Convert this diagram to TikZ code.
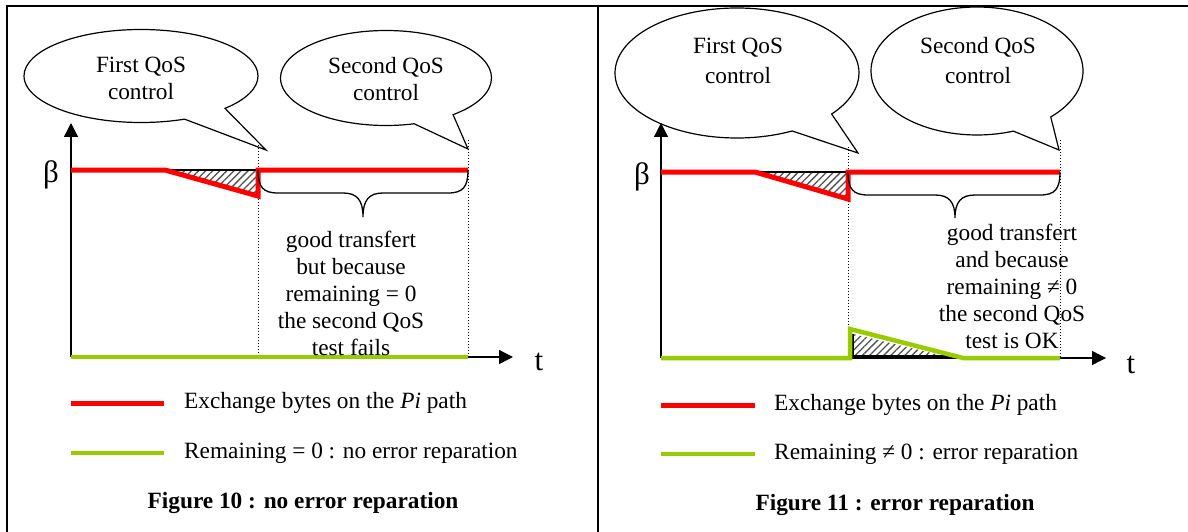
\documentclass[tikz,border=0pt]{standalone}
\usepackage{fontspec}
\setmainfont{Liberation Serif}
\usetikzlibrary{shapes.callouts,patterns.meta,arrows.meta}
\definecolor{grn}{RGB}{153,204,0}
\definecolor{hatchgray}{RGB}{80,80,80}
\begin{document}
\begin{tikzpicture}[x=1pt,y=-1pt,
  txt/.style={font=\fontsize{23.3}{27}\selectfont, inner sep=0pt, align=center},
  bubble/.style={ellipse callout, draw, line width=1.2pt, inner sep=0pt, callout pointer arc=24},
  redln/.style={draw=red, line width=5pt, line join=miter},
  grnln/.style={draw=grn, line width=4.5pt, line join=miter},
  axisln/.style={draw=black, line width=1.3pt, -{Triangle[length=14pt,width=14pt]}},
  guide/.style={draw=black, line width=1pt, dash pattern=on 1pt off 2pt},
  hatch/.style={pattern={Lines[angle=45,distance=5pt,line width=1.3pt]}, pattern color=hatchgray},
  edge/.style={draw=black, line width=1.2pt},
  bracepath/.style={draw=black, line width=1.3pt},
  symtxt/.style={font=\fontsize{31}{31}\selectfont, inner sep=0pt},
  captxt/.style={font=\fontsize{23.3}{27}\selectfont\bfseries, inner sep=0pt},
  legtxt/.style={font=\fontsize{23.3}{27}\selectfont, inner sep=0pt, anchor=west}]
\useasboundingbox (0,0) rectangle (1188,532);

% frame
\draw[line width=2pt] (7,540) -- (7,6) -- (1195,6);
\draw[line width=2pt] (598,6) -- (598,540);

% ================= LEFT PANEL =================
\coordinate (o1) at (71,357);
\coordinate (yt1) at (71,123);
\coordinate (xt1) at (513,357);
\coordinate (p1) at (266,150);
\coordinate (p2) at (468,149);
\node[bubble, minimum width=234pt, minimum height=93pt, callout absolute pointer={(p1)}] (b1) at (141,76) {};
\node[txt] (b1t) at (141,78) {First QoS\\control};
\node[bubble, minimum width=211pt, minimum height=95pt, callout absolute pointer={(p2)}] (b2) at (386,78) {};
\node[txt] (b2t) at (386,79) {Second QoS\\control};

\draw[axisln] (o1) -- (yt1);
\draw[axisln] (o1) -- (xt1);
\node[symtxt] (beta1) at (51,175) {β};
\node[symtxt] (t1) at (539,362) {t};

\coordinate (d1a) at (258,145);
\coordinate (d1b) at (258,357);
\coordinate (d2a) at (468,140);
\coordinate (d2b) at (468,357);
\draw[guide] (d1a) -- (d1b);
\draw[guide] (d2a) -- (d2b);

\coordinate (r1) at (71,170);
\coordinate (r2) at (165,170);
\coordinate (r3) at (258,196);
\coordinate (r4) at (258,170);
\coordinate (r5) at (468,170);
\fill[hatch] (r2) -- (r4) -- (r3) -- cycle;
\draw[edge] (r2) -- (r4) -- (258,194);
\draw[redln] (r1) -- (r2) -- (r3) -- (r4) -- (r5);

\draw[bracepath] (258,170) .. controls (258,187) and (263,193) .. (278,193) -- (343,193)
  .. controls (357,193) and (363,200) .. (363,217)
  .. controls (363,200) and (369,193) .. (383,193) -- (448,193)
  .. controls (463,193) and (468,187) .. (468,170);

\draw[grnln] (o1) -- (d2b);

\node[txt] (note1) at (351,293) {good transfert\\but because\\remaining = 0\\the second QoS\\test fails};

\coordinate (lr1) at (71,403);
\coordinate (lr2) at (164,403);
\draw[redln] (lr1) -- (lr2);
\node[legtxt] (lt1) at (184,403) {Exchange bytes on the \textit{Pi} path};
\coordinate (lg1) at (71,453);
\coordinate (lg2) at (164,453);
\draw[grnln] (lg1) -- (lg2);
\node[legtxt] (lt2) at (184,453) {Remaining = 0 : no error reparation};
\node[captxt] (cap1) at (303,503) {Figure 10 : no error reparation};

% ================= RIGHT PANEL =================
\coordinate (o2) at (661,358);
\coordinate (yt2) at (661,123);
\coordinate (xt2) at (1106,358);
\coordinate (p3) at (858,153);
\coordinate (p4) at (1059,150);
\node[bubble, minimum width=244pt, minimum height=130pt, callout absolute pointer={(p3)}] (b3) at (737,73) {};
\node[txt, font=\fontsize{23.3}{30}\selectfont] (b3t) at (738,61) {First QoS\\control};
\node[bubble, minimum width=212pt, minimum height=128pt, callout absolute pointer={(p4)}] (b4) at (977,71) {};
\node[txt, font=\fontsize{23.3}{30}\selectfont] (b4t) at (978,61) {Second QoS\\control};

\draw[axisln] (o2) -- (yt2);
\draw[axisln] (o2) -- (xt2);
\node[symtxt] (beta2) at (642,177) {β};
\node[symtxt] (t2) at (1131,365) {t};

\coordinate (d3a) at (848,147);
\coordinate (d3b) at (848,358);
\coordinate (d4a) at (1060,140);
\coordinate (d4b) at (1060,358);
\draw[guide] (d3a) -- (d3b);
\draw[guide] (d4a) -- (d4b);

\coordinate (s1) at (661,172);
\coordinate (s2) at (755,172);
\coordinate (s3) at (848,199);
\coordinate (s4) at (848,172);
\coordinate (s5) at (1060,172);
\fill[hatch] (s2) -- (s4) -- (s3) -- cycle;
\draw[edge] (s2) -- (s4) -- (848,197);
\draw[redln] (s1) -- (s2) -- (s3) -- (s4) -- (s5);

\draw[bracepath] (848,172) .. controls (848,189) and (853,195) .. (868,195) -- (935,195)
  .. controls (949,195) and (955,202) .. (955,218)
  .. controls (955,202) and (961,195) .. (975,195) -- (1040,195)
  .. controls (1055,195) and (1060,189) .. (1060,172);

\coordinate (g2) at (850,358);
\coordinate (g3) at (850,329);
\coordinate (g4) at (963,358);
\fill[hatch] (853,334) -- (853,356) -- (944,356) -- cycle;
\draw[edge] (853,334) -- (853,356) -- (950,356);
\draw[grnln] (o2) -- (g2) -- (g3) -- (g4) -- (d4b);

\node[txt] (note2) at (1012,286) {good transfert\\and because\\remaining ≠ 0\\the second QoS\\test is OK};

\coordinate (rr1) at (661,405);
\coordinate (rr2) at (755,405);
\draw[redln] (rr1) -- (rr2);
\node[legtxt] (rt1) at (774,405) {Exchange bytes on the \textit{Pi} path};
\coordinate (rg1) at (661,454);
\coordinate (rg2) at (755,454);
\draw[grnln] (rg1) -- (rg2);
\node[legtxt] (rt2) at (774,454) {Remaining ≠ 0 : error reparation};
\node[captxt] (cap2) at (895,505) {Figure 11 : error reparation};
\end{tikzpicture}
\end{document}
